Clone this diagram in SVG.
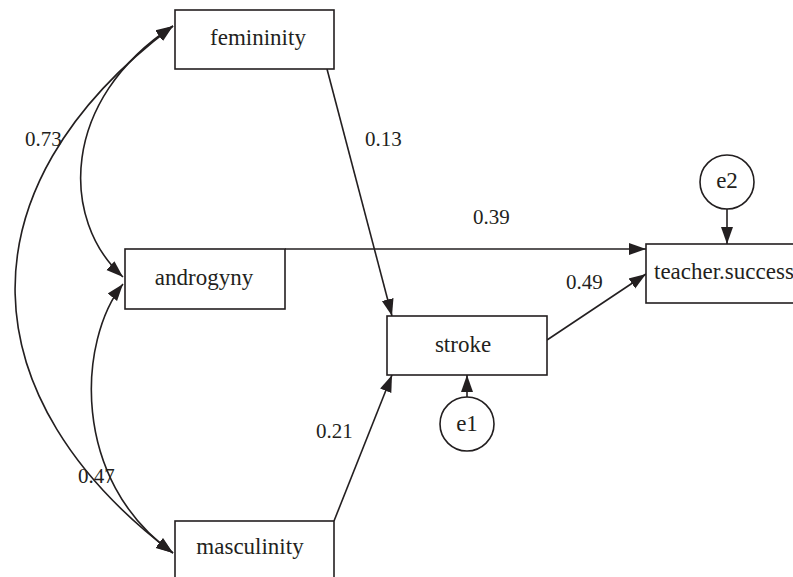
<svg xmlns="http://www.w3.org/2000/svg" width="793" height="577" viewBox="0 0 793 577">
<style>
.box{fill:#fff;stroke:#231f20;stroke-width:1.6}
.lbl{font-family:"Liberation Serif",serif;font-size:23px;fill:#231f20}
.num{font-family:"Liberation Serif",serif;font-size:21px;fill:#231f20}
.edge{fill:none;stroke:#231f20;stroke-width:1.6}
</style>
<defs>
<marker id="ah" markerUnits="userSpaceOnUse" markerWidth="18" markerHeight="14" viewBox="0 0 18 14" refX="17" refY="7" orient="auto-start-reverse">
<path d="M0,1 L17,7 L0,13 Z" fill="#231f20"/>
</marker>
</defs>
<rect width="793" height="577" fill="#fff"/>
<g id="connectors">
<path class="edge" d="M173,26 C60,100 60,220 123,277" marker-start="url(#ah)" marker-end="url(#ah)"/>
<path class="edge" d="M123,284 C78,340 70,480 173,553" marker-start="url(#ah)" marker-end="url(#ah)"/>
<path class="edge" d="M173,26 C-45,190 -30,400 173,553" marker-start="url(#ah)" marker-end="url(#ah)"/>
<line class="edge" x1="327" y1="69" x2="392" y2="316" marker-end="url(#ah)"/>
<line class="edge" x1="334" y1="521" x2="392" y2="375" marker-end="url(#ah)"/>
<line class="edge" x1="285" y1="249" x2="646" y2="249" marker-end="url(#ah)"/>
<line class="edge" x1="547" y1="340" x2="646" y2="274" marker-end="url(#ah)"/>
<line class="edge" x1="727" y1="209" x2="727" y2="244" marker-end="url(#ah)"/>
<line class="edge" x1="467" y1="397" x2="467" y2="375" marker-end="url(#ah)"/>
<text class="num" x="25" y="146">0.73</text>
<text class="num" x="365" y="146">0.13</text>
<text class="num" x="78" y="483">0.47</text>
<text class="num" x="316" y="438">0.21</text>
<text class="num" x="473" y="224">0.39</text>
<text class="num" x="566" y="289">0.49</text>
</g>
<g id="femininity">
<rect class="box" x="175" y="10" width="159" height="59"/>
<text class="lbl" x="258" y="45" text-anchor="middle">femininity</text>
</g>
<g id="androgyny">
<rect class="box" x="125" y="249" width="160" height="60"/>
<text class="lbl" x="204" y="285" text-anchor="middle">androgyny</text>
</g>
<g id="masculinity">
<rect class="box" x="175" y="521" width="159" height="70"/>
<text class="lbl" x="250" y="554" text-anchor="middle">masculinity</text>
</g>
<g id="stroke">
<rect class="box" x="387" y="316" width="160" height="59"/>
<text class="lbl" x="463" y="352" text-anchor="middle">stroke</text>
</g>
<g id="teacher.success">
<rect class="box" x="646" y="244" width="170" height="59"/>
<text class="lbl" x="654" y="279" font-size="20">teacher.success</text>
</g>
<g id="e2">
<circle class="box" cx="727" cy="182" r="27"/>
<text class="lbl" x="727" y="188" text-anchor="middle" font-size="21">e2</text>
</g>
<g id="e1">
<circle class="box" cx="467" cy="424" r="27"/>
<text class="lbl" x="467" y="431" text-anchor="middle" font-size="21">e1</text>
</g>
</svg>
